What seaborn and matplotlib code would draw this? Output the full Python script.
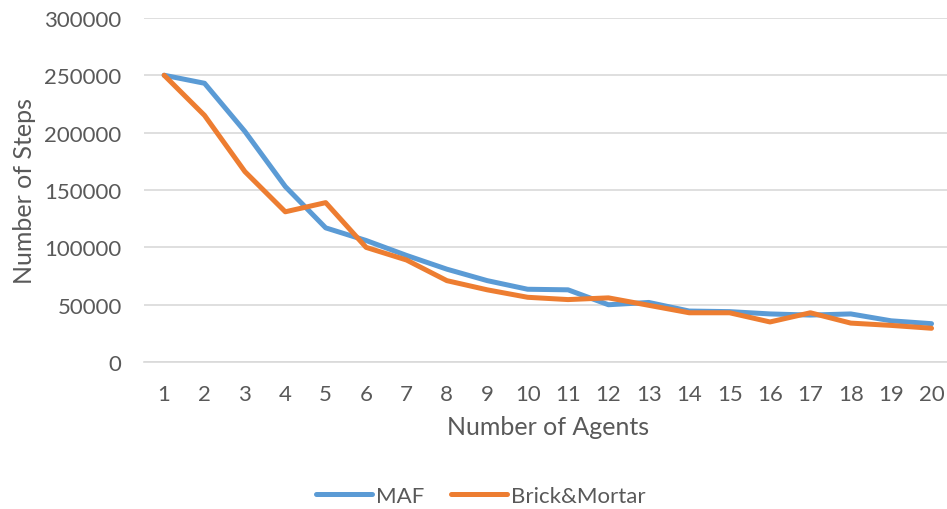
import numpy as np
import pandas as pd
import seaborn as sns
import matplotlib.pyplot as plt

agents = list(range(1, 21))
maf = [250000, 243000, 201000, 153000, 117000, 106000, 93000, 81000, 71000, 63500,
       63000, 50000, 52000, 44500, 44000, 42000, 41000, 42000, 36000, 33500]
brick = [250000, 215000, 166000, 131000, 139000, 100000, 89000, 71000, 63000, 56500,
         54500, 56000, 49500, 43000, 43000, 35000, 43000, 34000, 32000, 29500]

df = pd.DataFrame({
    'agents': agents * 2,
    'steps': maf + brick,
    'method': ['MAF'] * len(maf) + ['Brick&Mortar'] * len(brick),
})

sns.set_style('white')
plt.rcParams['font.family'] = ['Lato', 'DejaVu Sans']
grey = '#595959'

fig = plt.figure(figsize=(9.47, 5.10), dpi=100)
ax = fig.add_axes([0.152, 0.288, 0.853, 0.675])

sns.lineplot(data=df, x='agents', y='steps', hue='method',
             palette={'MAF': '#5B9BD5', 'Brick&Mortar': '#ED7D31'},
             linewidth=3.6, ax=ax, legend=True)

ax.set_xlim(0.5, 20.5)
ax.set_ylim(0, 300000)
ax.set_xticks(agents)
ax.set_yticks(range(0, 300001, 50000))
ax.set_yticklabels([str(v) for v in range(0, 300001, 50000)])
ax.yaxis.grid(True, color='#D9D9D9', linewidth=1.2)
ax.set_axisbelow(True)
for side in ['top', 'right', 'left']:
    ax.spines[side].set_visible(False)
ax.spines['bottom'].set_color('#D9D9D9')
ax.spines['bottom'].set_linewidth(1.2)
ax.tick_params(axis='both', length=0, labelsize=16, colors=grey)
ax.tick_params(axis='x', pad=16)
ax.tick_params(axis='y', pad=16)
ax.set_xlabel('Number of Agents', fontsize=18, color=grey, labelpad=8)
ax.set_ylabel('Number of Steps', fontsize=18, color=grey, labelpad=6)

handles, labels = ax.get_legend_handles_labels()
ax.legend(handles, labels, loc='center', bbox_to_anchor=(0.508, 0.026),
          bbox_transform=fig.transFigure, ncol=2, frameon=False,
          fontsize=16, labelcolor=grey, handlelength=2.5, handletextpad=0.2,
          columnspacing=1.2)

fig.savefig('out.png', dpi=100)
